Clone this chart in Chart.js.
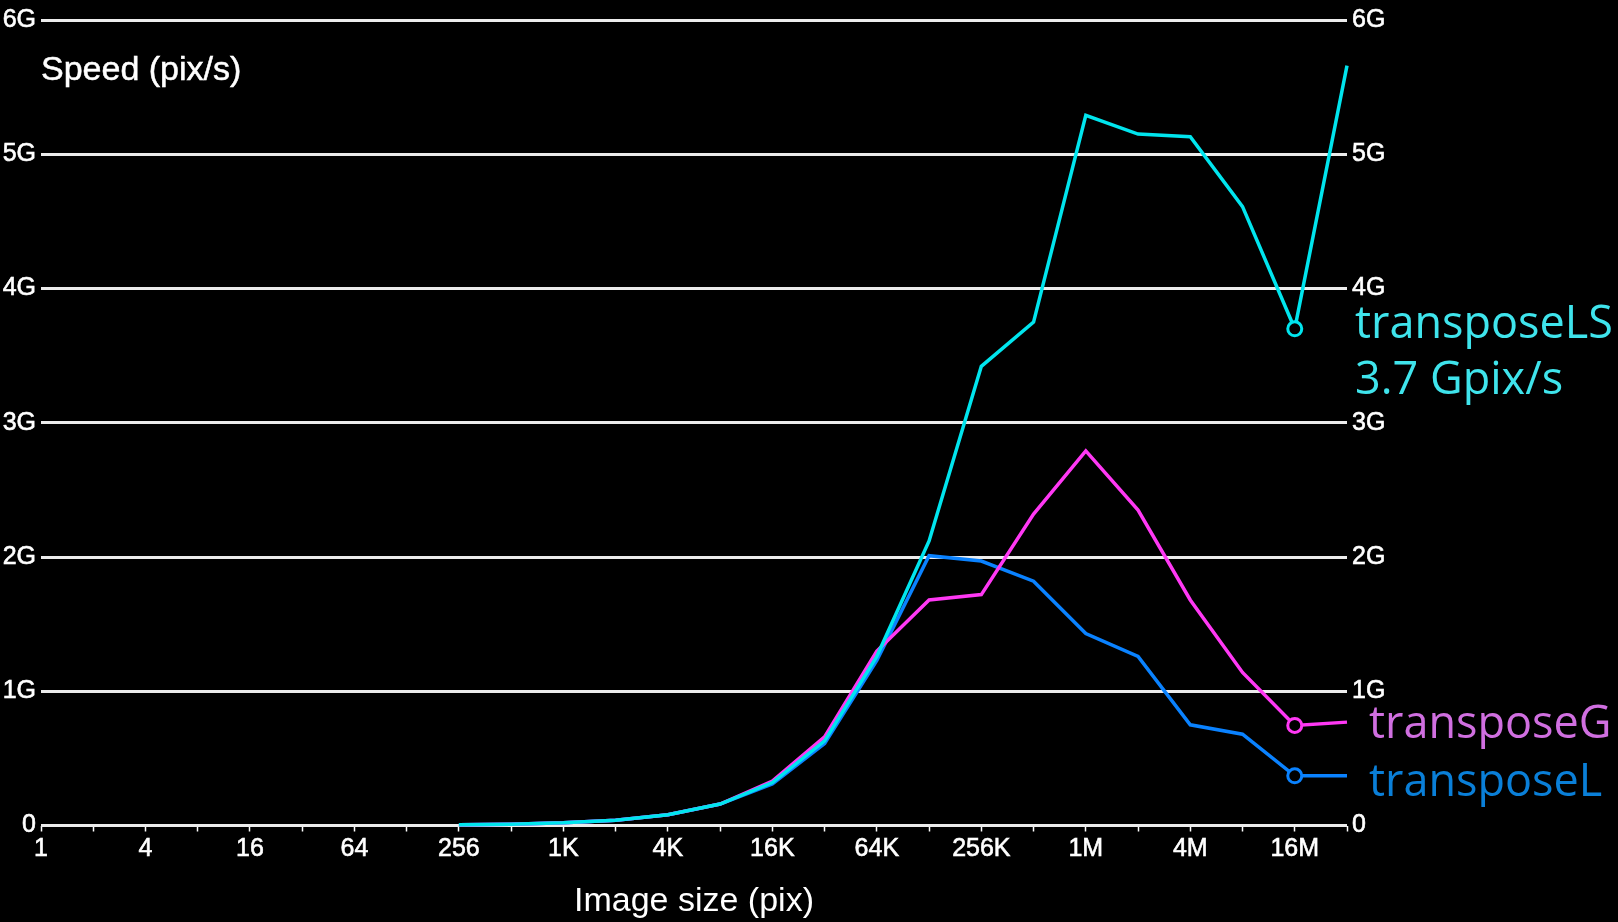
<!DOCTYPE html>
<html>
<head>
<meta charset="utf-8">
<title>Transpose speed</title>
<script src="https://cdn.jsdelivr.net/npm/chart.js@4/dist/chart.umd.min.js"></script>
<style>
  html, body { margin: 0; padding: 0; background: #000; }
  #wrap { width: 1618px; height: 922px; position: relative; }
</style>
</head>
<body>
<div id="wrap"><canvas id="c" width="1618" height="922"></canvas></div>
<script>
// Image sizes (pixels), one point per power of two
const pixelCounts = [256, 512, 1024, 2048, 4096, 8192, 16384, 32768, 65536, 131072,
  262144, 524288, 1048576, 2097152, 4194304, 8388608, 16777216, 33554432];

// Speed in Gpix/s
const transposeLS = [0.005, 0.01, 0.02, 0.04, 0.08, 0.16, 0.32, 0.63, 1.26, 2.12,
  3.42, 3.75, 5.29, 5.15, 5.13, 4.61, 3.7, 5.66];
const transposeG = [0.005, 0.01, 0.02, 0.04, 0.08, 0.16, 0.33, 0.66, 1.30, 1.68,
  1.72, 2.32, 2.79, 2.35, 1.68, 1.14, 0.745, 0.77];
const transposeL = [0.005, 0.01, 0.02, 0.04, 0.08, 0.16, 0.31, 0.61, 1.23, 2.01,
  1.97, 1.82, 1.43, 1.26, 0.75, 0.68, 0.37, 0.37];

// Axis tick labels (x: every second power of two, starting at 2^0)
const xTickLabels = ['1', '4', '16', '64', '256', '1K', '4K', '16K', '64K', '256K', '1M', '4M', '16M'];
const yTickLabels = ['0', '1G', '2G', '3G', '4G', '5G', '6G'];

const markedSize = 16777216; // highlighted point (16M)
const markedIndex = pixelCounts.indexOf(markedSize);

const tickFont = { family: '"Liberation Sans", Arial, sans-serif', size: 25 };
const seriesFont = '45px "Open Sans", "Noto Sans", sans-serif';

function toPoints(values) {
  return values.map((v, i) => ({ x: Math.log2(pixelCounts[i]), y: v }));
}
function markerRadii() {
  return pixelCounts.map((_, i) => (i === markedIndex ? 7 : 0));
}

const series = [
  { name: 'transposeLS', values: transposeLS, line: '#00e5ee', text: '#3fe4ec', order: 0, dy: -4 },
  { name: 'transposeG', values: transposeG, line: '#ff38f4', text: '#d06fe0', order: 1, dy: 0 },
  { name: 'transposeL', values: transposeL, line: '#0a82ff', text: '#0a7fd8', order: 2, dy: 7 }
];

const textPlugin = {
  id: 'chartText',
  afterDatasetsDraw(chart) {
    const { ctx, chartArea, scales } = chart;
    ctx.save();
    // y-axis caption inside the plot
    ctx.fillStyle = '#ffffff';
    ctx.strokeStyle = '#ffffff';
    ctx.lineWidth = 0.5;
    ctx.font = '34px "Liberation Sans", Arial, sans-serif';
    ctx.textAlign = 'left';
    ctx.textBaseline = 'middle';
    ctx.fillText('Speed (pix/s)', chartArea.left, 71);
    ctx.strokeText('Speed (pix/s)', chartArea.left, 71);

    // series names next to the highlighted points
    ctx.font = seriesFont;
    series.forEach((s, i) => {
      const py = scales.y.getPixelForValue(s.values[markedIndex]) + s.dy;
      const px = chartArea.right + (i === 0 ? 8 : 22);
      ctx.fillStyle = s.text;
      ctx.fillText(s.name, px, py);
      if (i === 0) {
        ctx.fillText(s.values[markedIndex].toFixed(1) + ' Gpix/s', px, py + 56);
      }
    });
    ctx.restore();
  }
};

new Chart(document.getElementById('c'), {
  type: 'line',
  data: {
    datasets: series.map(s => ({
      label: s.name,
      data: toPoints(s.values),
      borderColor: s.line,
      borderWidth: 3.5,
      pointRadius: markerRadii(),
      pointHoverRadius: 0,
      pointBorderWidth: 3,
      pointBorderColor: s.line,
      pointBackgroundColor: '#000',
      tension: 0,
      order: s.order,
      clip: false
    }))
  },
  options: {
    responsive: false,
    animation: false,
    events: [],
    layout: { padding: { top: 17.5, left: 0, right: 0, bottom: 0 } },
    plugins: { legend: { display: false }, tooltip: { enabled: false } },
    scales: {
      x: {
        type: 'linear',
        min: 0,
        max: 25,
        afterFit(scale) { scale.height = 96.5; },
        afterBuildTicks(scale) {
          scale.ticks = [];
          for (let k = 0; k <= 25; k++) scale.ticks.push({ value: k });
        },
        ticks: {
          autoSkip: false,
          maxRotation: 0,
          color: '#ffffff',
          font: tickFont,
          textStrokeColor: '#ffffff',
          textStrokeWidth: 0.6,
          padding: 3,
          callback: (v) => (v % 2 === 0 && xTickLabels[v / 2] !== undefined ? xTickLabels[v / 2] : '')
        },
        grid: {
          drawOnChartArea: false,
          drawTicks: true,
          tickLength: 6,
          tickWidth: 1.5,
          tickColor: '#ffffff'
        },
        border: { display: false },
        title: {
          display: true,
          text: 'Image size (pix)',
          color: '#ffffff',
          font: { family: '"Liberation Sans", Arial, sans-serif', size: 34 },
          padding: { top: 0, bottom: 0 }
        }
      },
      y: {
        position: 'left',
        min: 0,
        max: 6,
        afterFit(scale) { scale.width = 41; },
        ticks: {
          stepSize: 1,
          color: '#ffffff',
          font: tickFont,
          textStrokeColor: '#ffffff',
          textStrokeWidth: 0.6,
          padding: 5,
          callback: (v) => yTickLabels[v]
        },
        grid: {
          color: '#ececec',
          lineWidth: 3,
          drawTicks: false
        },
        border: { display: false }
      },
      y2: {
        position: 'right',
        min: 0,
        max: 6,
        afterFit(scale) { scale.width = 271; },
        ticks: {
          stepSize: 1,
          color: '#ffffff',
          font: tickFont,
          textStrokeColor: '#ffffff',
          textStrokeWidth: 0.6,
          padding: 5,
          callback: (v) => yTickLabels[v]
        },
        grid: { drawOnChartArea: false, drawTicks: false },
        border: { display: false }
      }
    }
  },
  plugins: [textPlugin]
});
</script>
</body>
</html>
